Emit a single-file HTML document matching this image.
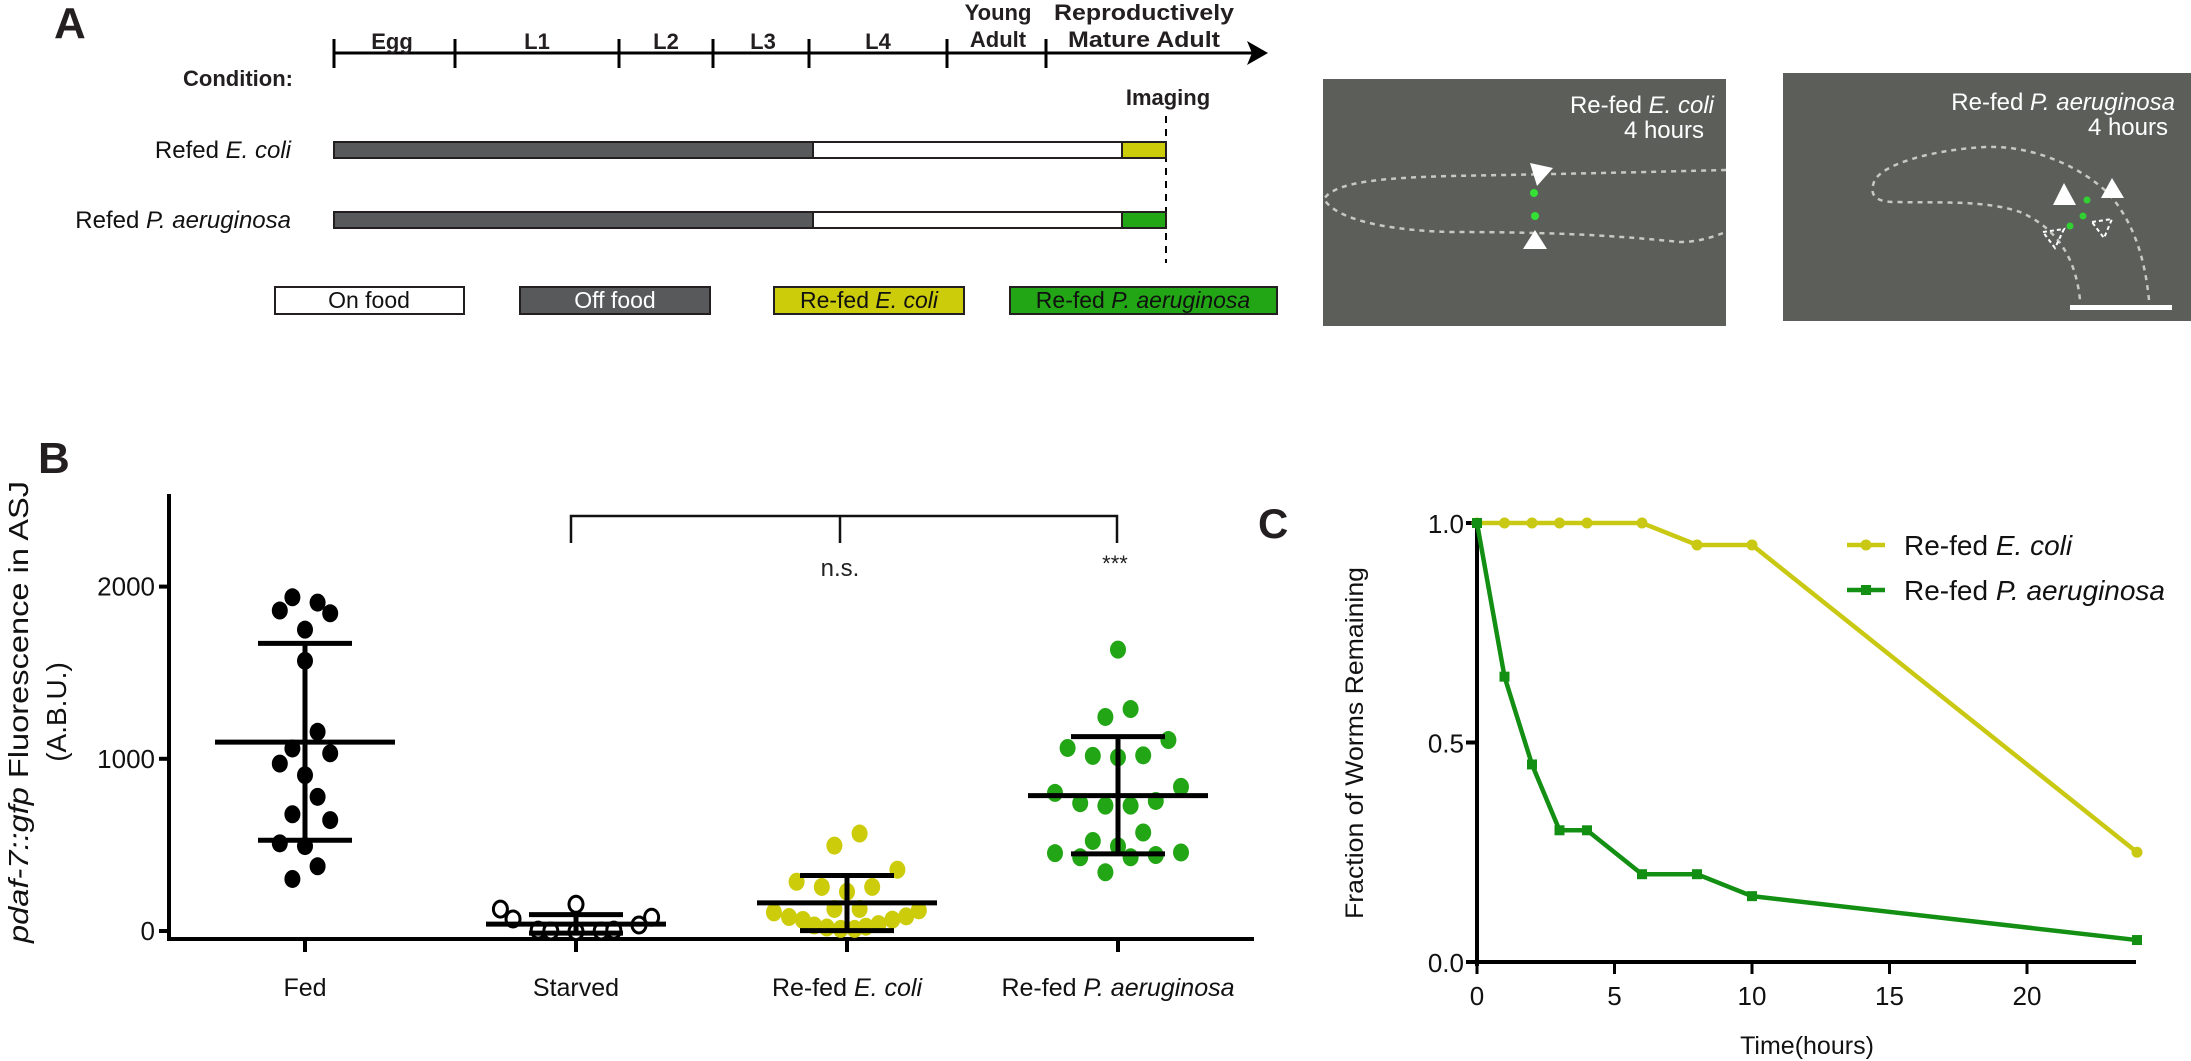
<!DOCTYPE html>
<html><head><meta charset="utf-8"><style>
html,body{margin:0;padding:0;background:#fff;}
svg{display:block;font-family:"Liberation Sans",Arial,sans-serif;}
</style></head><body>
<svg id="fig" width="2191" height="1061" viewBox="0 0 2191 1061" xmlns="http://www.w3.org/2000/svg">
<!-- PANEL A -->
<g>
<text x="54" y="38" font-size="44" font-weight="bold" fill="#231f20">A</text>
<line x1="334" y1="53" x2="1255" y2="53" stroke="#000" stroke-width="3"/>
<polygon points="1268,53 1247,41 1252,53 1247,65" fill="#000"/>
<g stroke="#000" stroke-width="3">
<line x1="334" y1="39" x2="334" y2="68"/><line x1="455" y1="39" x2="455" y2="68"/><line x1="619" y1="39" x2="619" y2="68"/><line x1="713" y1="39" x2="713" y2="68"/><line x1="809" y1="39" x2="809" y2="68"/><line x1="947" y1="39" x2="947" y2="68"/><line x1="1046" y1="39" x2="1046" y2="68"/>
</g>
<g font-weight="bold" font-size="22" text-anchor="middle" fill="#231f20">
<text x="392" y="49">Egg</text>
<text x="537" y="49">L1</text>
<text x="666" y="49">L2</text>
<text x="763" y="49">L3</text>
<text x="878" y="49">L4</text>
<text x="998" y="20">Young</text>
<text x="998" y="47">Adult</text>
<text x="1144" y="20" textLength="180" lengthAdjust="spacingAndGlyphs">Reproductively</text>
<text x="1144" y="47" textLength="152" lengthAdjust="spacingAndGlyphs">Mature Adult</text>
<text x="1168" y="105">Imaging</text>
</g>
<text x="293" y="86" font-weight="bold" font-size="22" text-anchor="end" fill="#231f20">Condition:</text>
<line x1="1166" y1="116" x2="1166" y2="263" stroke="#000" stroke-width="2" stroke-dasharray="7,6"/>
<text x="291" y="158" font-size="24" text-anchor="end" fill="#111">Refed <tspan font-style="italic">E. coli</tspan></text>
<text x="291" y="228" font-size="24" text-anchor="end" fill="#111">Refed <tspan font-style="italic">P. aeruginosa</tspan></text>
<g stroke="#231f20" stroke-width="2">
<rect x="334" y="142" width="479" height="16" fill="#58595b"/><rect x="813" y="142" width="309" height="16" fill="#fff"/><rect x="1122" y="142" width="44" height="16" fill="#cccc0a"/>
</g>
<g stroke="#231f20" stroke-width="2">
<rect x="334" y="212" width="479" height="16" fill="#58595b"/><rect x="813" y="212" width="309" height="16" fill="#fff"/><rect x="1122" y="212" width="44" height="16" fill="#22a615"/>
</g>
<g font-size="23" text-anchor="middle" stroke-width="2">
<rect x="275" y="287" width="189" height="27" fill="#fff" stroke="#231f20"/>
<text x="369" y="308" fill="#111">On food</text>
<rect x="520" y="287" width="190" height="27" fill="#58595b" stroke="#231f20"/>
<text x="615" y="308" fill="#fff">Off food</text>
<rect x="774" y="287" width="190" height="27" fill="#cccc0a" stroke="#231f20"/>
<text x="869" y="308" fill="#111">Re-fed <tspan font-style="italic">E. coli</tspan></text>
<rect x="1010" y="287" width="267" height="27" fill="#22a615" stroke="#231f20"/>
<text x="1143" y="308" fill="#111">Re-fed <tspan font-style="italic">P. aeruginosa</tspan></text>
</g>
</g>
<!-- MICROGRAPHS -->
<g>
<rect x="1323" y="79" width="403" height="247" fill="#5b5e59"/>
<path d="M1726,170 C1650,172 1560,174 1450,176 C1380,178 1335,182 1324,199 C1335,218 1380,230 1450,232 C1560,232 1620,236 1680,242 C1700,242 1715,236 1726,232" fill="none" stroke="#c8c8c4" stroke-width="2.5" stroke-dasharray="5,5"/>
<circle cx="1534" cy="193" r="4" fill="#33e033"/><circle cx="1535" cy="216" r="4" fill="#33e033"/>
<polygon points="1530,163 1553,168 1537,186" fill="#fff"/>
<polygon points="1523,249 1547,249 1535,230" fill="#fff"/>
<text x="1714" y="113" font-size="24" fill="#fff" text-anchor="end">Re-fed <tspan font-style="italic">E. coli</tspan></text>
<text x="1704" y="138" font-size="24" fill="#fff" text-anchor="end">4 hours</text>
</g>
<g>
<rect x="1783" y="73" width="408" height="248" fill="#5b5e59"/>
<path d="M2149,300 C2145,260 2135,225 2110,195 C2080,165 2030,145 1985,147 C1930,150 1880,165 1874,182 C1868,198 1880,202 1895,202 C1940,203 1985,200 2020,212 C2050,225 2075,250 2080,300" fill="none" stroke="#c8c8c4" stroke-width="2.5" stroke-dasharray="5,5"/>
<circle cx="2087" cy="200" r="3.5" fill="#33d033"/><circle cx="2083" cy="216" r="3.5" fill="#33d033"/><circle cx="2070" cy="226" r="3.5" fill="#33d033"/>
<polygon points="2064,183 2053,205 2076,205" fill="#fff"/>
<polygon points="2112,178 2101,198 2124,198" fill="#fff"/>
<polygon points="2043,232 2064,229 2055,248" fill="none" stroke="#fff" stroke-width="2" stroke-dasharray="4,3"/>
<polygon points="2092,222 2112,219 2104,238" fill="none" stroke="#fff" stroke-width="2" stroke-dasharray="4,3"/>
<rect x="2070" y="305" width="102" height="5" fill="#fff"/>
<text x="2175" y="110" font-size="24" fill="#fff" text-anchor="end">Re-fed <tspan font-style="italic">P. aeruginosa</tspan></text>
<text x="2168" y="135" font-size="24" fill="#fff" text-anchor="end">4 hours</text>
</g>
<!-- PANEL B -->
<g id="panelB">
<text x="38" y="473" font-size="44" font-weight="bold" fill="#231f20">B</text>
<text transform="translate(28,712) rotate(-90)" font-size="28" text-anchor="middle" textLength="462" lengthAdjust="spacingAndGlyphs" fill="#111"><tspan font-style="italic">pdaf-7::gfp</tspan> Fluorescence in ASJ</text>
<text transform="translate(66,712) rotate(-90)" font-size="28" text-anchor="middle" fill="#111">(A.B.U.)</text>
</g>
<!-- PANEL C -->
<g id="panelC">
<text x="1258" y="538" font-size="42" font-weight="bold" fill="#231f20">C</text>
<text transform="translate(1363,743) rotate(-90)" font-size="25" text-anchor="middle" textLength="352" lengthAdjust="spacingAndGlyphs" fill="#111">Fraction of Worms Remaining</text>
<text x="1807" y="1054" font-size="25" text-anchor="middle" fill="#111">Time(hours)</text>
</g>
</svg>
<script>
// ---------- Panel B data ----------
const bCategories = ["Fed", "Starved", "Re-fed E. coli", "Re-fed P. aeruginosa"];
const bTicks = [0, 1000, 2000];
const fedValues = [1938,1907,1861,1845,1750,1569,1157,1060,1032,972,905,779,678,644,509,493,376,302];
const fedSlots = [-1,1,-2,2,0,0,1,-1,2,-2,0,1,-1,2,-2,0,1,-1];
const starvedValues = [127,70,155,80,35,5,0,-3,0,5];
const starvedSlots = [-6,-5,0,6,5,-3,-2,0,2,3];
const ecoliValues = [566,496,356,286,256,256,228,128,128,108,120,81,85,64,66,32,40,20,25,12,12];
const ecoliSlots = [1,-1,4,-4,-2,2,0,-1,1,-5.8,5.7,-4.6,4.7,-3.5,3.6,-2.6,2.5,-1.6,1.5,-0.5,0.6];
const paValues = [1634,1289,1243,1109,1063,1017,1008,1020,802,837,742,728,728,755,572,523,492,452,428,428,441,456,341];
const paSlots = [0,1,-1,4,-4,-2,0,2,-5,5,-3,-1,1,3,2,-2,0,-5,-3,1,3,5,-1];
const bMeans = [1097, 40, 163, 786];
const bSdHigh = [1670, 95, 322, 1129];
const bSdLow = [527, -12, 2, 448];

// ---------- Panel C data ----------
const cTimes = [0,1,2,3,4,6,8,10,24];
const cEcoli = [1,1,1,1,1,1,0.95,0.95,0.25];
const cPa = [1,0.65,0.45,0.30,0.30,0.20,0.20,0.15,0.05];
const cXTicks = [0,5,10,15,20];
const cYTicks = [0,0.5,1];
const cYTickLabels = ["0.0","0.5","1.0"];

const NS = "http://www.w3.org/2000/svg";
function mk(parent, tag, attrs){ const e=document.createElementNS(NS,tag); for(const k in attrs) e.setAttribute(k,attrs[k]); parent.appendChild(e); return e; }

// B scales
const yB = v => 931 - v*0.1722;
const xB = i => 305 + i*271;
const slotW = 12.6;
const gB = document.getElementById("panelB");

// axes
let ax = mk(gB,"line",{x1:169,y1:494,x2:169,y2:941,stroke:"#000","stroke-width":4});


ax = mk(gB,"line",{x1:167,y1:939,x2:1254,y2:939,stroke:"#000","stroke-width":4});


bTicks.forEach(t=>{
  const tk = mk(gB,"line",{x1:159,y1:yB(t),x2:169,y2:yB(t),stroke:"#000","stroke-width":4});
  
  
  const lb = mk(gB,"text",{x:155,y:yB(t)+9,"font-size":26,"text-anchor":"end",fill:"#111"});
  lb.textContent = String(t);
  
  
});
bCategories.forEach((c,i)=>{
  const tk = mk(gB,"line",{x1:xB(i),y1:939,x2:xB(i),y2:952,stroke:"#000","stroke-width":4});
  
  
  const lb = mk(gB,"text",{x:xB(i),y:996,"font-size":25,"text-anchor":"middle",fill:"#111"});
  if(c.startsWith("Re-fed ")){
    lb.appendChild(document.createTextNode("Re-fed "));
    const ts = mk(lb,"tspan",{"font-style":"italic"}); ts.textContent = c.slice(7);
  } else lb.textContent = c;
  
  
});
// significance bracket
let br = mk(gB,"path",{d:`M${xB(1)-5},543 V516 H${xB(3)-1} V543 M${xB(2)-7},516 V543`,fill:"none",stroke:"#111","stroke-width":2.5});


let st = mk(gB,"text",{x:xB(2)-7,y:576,"font-size":24,"text-anchor":"middle",fill:"#222"}); st.textContent="n.s.";


st = mk(gB,"text",{x:xB(3)-3,y:571,"font-size":22,"text-anchor":"middle",fill:"#222"}); st.textContent="***";



const groups = [
  {vals:fedValues, slots:fedSlots, fill:"#000", open:false, name:"fed-point"},
  {vals:starvedValues, slots:starvedSlots, fill:"#fff", open:true, name:"starved-point"},
  {vals:ecoliValues, slots:ecoliSlots, fill:"#cccc0a", open:false, name:"ecoli-point"},
  {vals:paValues, slots:paSlots, fill:"#22a615", open:false, name:"pa-point"}
];
groups.forEach((g,i)=>{
  g.vals.forEach((v,j)=>{
    const d = mk(gB,"ellipse",{cx:xB(i)+g.slots[j]*slotW, cy:yB(v), rx:g.open?7:8, ry:g.open?8:9, fill:g.fill, stroke:g.open?"#000":"none","stroke-width":3});
    
    
  });
});
bMeans.forEach((m,i)=>{
  const cx = xB(i);
  const e1 = mk(gB,"line",{x1:cx,y1:yB(bSdHigh[i]),x2:cx,y2:yB(bSdLow[i]),stroke:"#000","stroke-width":5});
  
  
  [bSdHigh[i], bSdLow[i]].forEach(v=>{
    const cap = mk(gB,"line",{x1:cx-47,y1:yB(v),x2:cx+47,y2:yB(v),stroke:"#000","stroke-width":5});
    
    
  });
  const ml = mk(gB,"line",{x1:cx-90,y1:yB(m),x2:cx+90,y2:yB(m),stroke:"#000","stroke-width":5});
  
  
});

// ---------- Panel C ----------
const xC = t => 1477 + t*27.5;
const yC = f => 962 - f*439;
const gC = document.getElementById("panelC");
ax = mk(gC,"line",{x1:1477,y1:518,x2:1477,y2:966,stroke:"#000","stroke-width":4});


ax = mk(gC,"line",{x1:1475,y1:962,x2:2136,y2:962,stroke:"#000","stroke-width":4});


cXTicks.forEach(t=>{
  const tk = mk(gC,"line",{x1:xC(t),y1:962,x2:xC(t),y2:974,stroke:"#000","stroke-width":3});
  
  
  const lb = mk(gC,"text",{x:xC(t),y:1005,"font-size":26,"text-anchor":"middle",fill:"#111"});
  lb.textContent = String(t);
  
  
});
cYTicks.forEach((f,i)=>{
  const tk = mk(gC,"line",{x1:1466,y1:yC(f),x2:1477,y2:yC(f),stroke:"#000","stroke-width":4});
  
  
  const lb = mk(gC,"text",{x:1464,y:yC(f)+10,"font-size":26,"text-anchor":"end",fill:"#111"});
  lb.textContent = cYTickLabels[i];
  
  
});
function series(vals, color, square, name){
  const pts = cTimes.map((t,i)=>xC(t)+","+yC(vals[i])).join(" ");
  const pl = mk(gC,"polyline",{points:pts,fill:"none",stroke:color,"stroke-width":4.5,"stroke-linejoin":"round"});
  
  
  cTimes.forEach((t,i)=>{
    let m;
    if(square) m = mk(gC,"rect",{x:xC(t)-5,y:yC(vals[i])-5,width:10,height:10,fill:color});
    else m = mk(gC,"circle",{cx:xC(t),cy:yC(vals[i]),r:5.5,fill:color});
    
    
  });
}
series(cEcoli,"#c9c914",false,"ecoli-series");
series(cPa,"#138f13",true,"pa-series");
// legend
function legend(y,color,square,label,name){
  const l = mk(gC,"line",{x1:1847,y1:y,x2:1885,y2:y,stroke:color,"stroke-width":4.5});
  
  
  const m = square ? mk(gC,"rect",{x:1861,y:y-5,width:10,height:10,fill:color}) : mk(gC,"circle",{cx:1866,cy:y,r:5.5,fill:color});
  
  
  const t = mk(gC,"text",{x:1904,y:y+10,"font-size":28,fill:"#111"});
  t.appendChild(document.createTextNode("Re-fed "));
  const ts = mk(t,"tspan",{"font-style":"italic"}); ts.textContent = label;
  
  
}
legend(545,"#c9c914",false,"E. coli","legend-ecoli");
legend(590,"#138f13",true,"P. aeruginosa","legend-pa");
</script>
</body></html>
